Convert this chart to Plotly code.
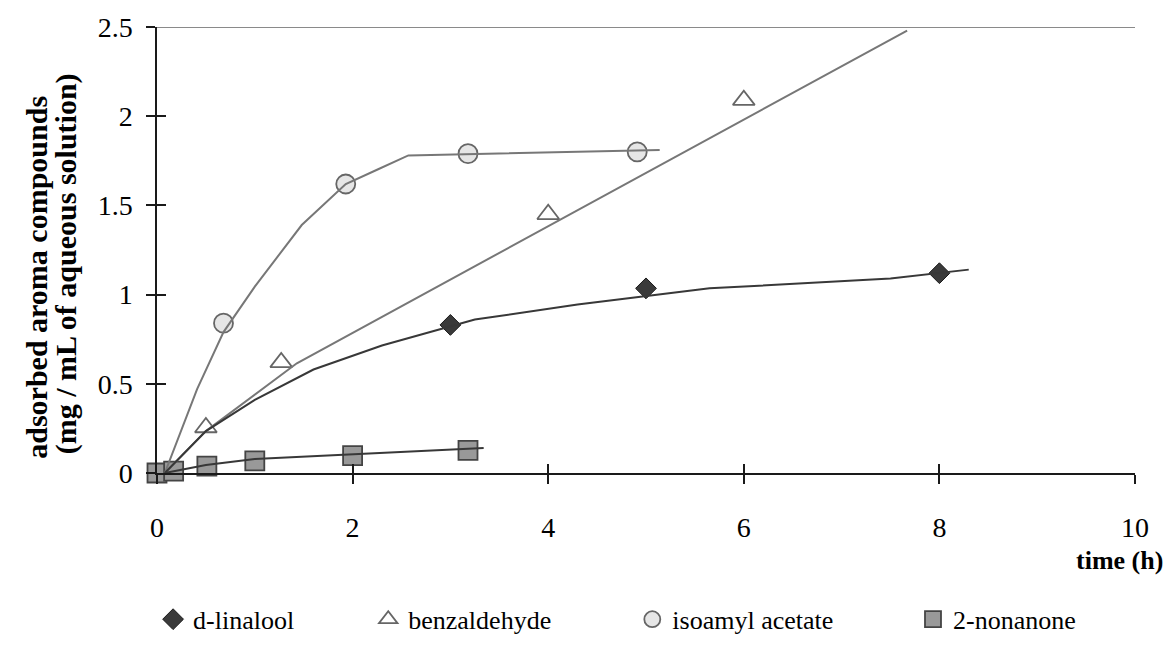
import plotly.graph_objects as go

# ---- data ----
t_linalool = [3.0, 5.0, 8.0]
y_linalool = [0.83, 1.035, 1.12]

t_benz = [0.5, 1.27, 4.0, 6.0]
y_benz = [0.255, 0.62, 1.45, 2.09]

t_iso = [0.68, 1.93, 3.18, 4.91]
y_iso = [0.84, 1.62, 1.79, 1.80]

t_non = [0.0, 0.17, 0.51, 1.0, 2.0, 3.18]
y_non = [0.0, 0.01, 0.038, 0.068, 0.097, 0.127]

# fitted trend curves (vertices)
fit_linalool_t = [0.08, 0.5, 1.0, 1.6, 2.3, 3.25, 4.3, 5.65, 7.5, 8.3]
fit_linalool_y = [0.0, 0.235, 0.41, 0.58, 0.715, 0.86, 0.945, 1.035, 1.09, 1.14]

fit_benz_t = [0.08, 0.5, 1.43, 7.67]
fit_benz_y = [0.0, 0.235, 0.615, 2.48]

fit_iso_t = [0.08, 0.41, 0.68, 1.0, 1.48, 1.93, 2.25, 2.57, 5.14]
fit_iso_y = [0.0, 0.47, 0.79, 1.045, 1.39, 1.62, 1.70, 1.78, 1.81]

fit_non_t = [0.08, 0.5, 1.0, 2.0, 3.34]
fit_non_y = [0.0, 0.045, 0.078, 0.105, 0.14]

x_ticks = [0, 2, 4, 6, 8, 10]
y_ticks = [0, 0.5, 1, 1.5, 2, 2.5]
y_tick_text = ["0", "0.5", "1", "1.5", "2", "2.5"]

names = ["d-linalool", "benzaldehyde", "isoamyl acetate", "2-nonanone"]
y_title_lines = ["adsorbed aroma compounds", "(mg / mL of aqueous solution)"]

FONT = "Liberation Serif"

fig = go.Figure()

# markers first (lines drawn on top)
fig.add_trace(go.Scatter(
    x=t_linalool, y=y_linalool, mode="markers", name=names[0], legend="legend",
    marker=dict(symbol="diamond", size=16, color="#3a3a3a", line=dict(color="#1a1a1a", width=1)),
    cliponaxis=False))
fig.add_trace(go.Scatter(
    x=t_benz, y=y_benz, mode="markers", name=names[1], legend="legend2",
    marker=dict(symbol="triangle-up", size=19, color="white", line=dict(color="#666666", width=1.8)),
    cliponaxis=False))
fig.add_trace(go.Scatter(
    x=t_iso, y=y_iso, mode="markers", name=names[2], legend="legend3",
    marker=dict(symbol="circle", size=19, color="#e6e6e6", line=dict(color="#666666", width=1.8)),
    cliponaxis=False))
fig.add_trace(go.Scatter(
    x=t_non, y=y_non, mode="markers", name=names[3], legend="legend4",
    marker=dict(symbol="square", size=19, color="#999999", line=dict(color="#444444", width=1.8)),
    cliponaxis=False))

# trend lines
fig.add_trace(go.Scatter(x=fit_iso_t, y=fit_iso_y, mode="lines", showlegend=False,
                         line=dict(color="#777777", width=2), cliponaxis=False))
fig.add_trace(go.Scatter(x=fit_benz_t, y=fit_benz_y, mode="lines", showlegend=False,
                         line=dict(color="#777777", width=2), cliponaxis=False))
fig.add_trace(go.Scatter(x=fit_linalool_t, y=fit_linalool_y, mode="lines", showlegend=False,
                         line=dict(color="#383838", width=2), cliponaxis=False))
fig.add_trace(go.Scatter(x=fit_non_t, y=fit_non_y, mode="lines", showlegend=False,
                         line=dict(color="#383838", width=2), cliponaxis=False))

# dummy trace for the overlay axes (inside half of the crossing ticks)
fig.add_trace(go.Scatter(x=[None], y=[None], xaxis="x2", yaxis="y2", showlegend=False, hoverinfo="skip"))

axis_common = dict(showgrid=False, zeroline=False, tickcolor="#1a1a1a", tickwidth=1.5, ticklen=9)

fig.update_layout(
    width=1167, height=655,
    margin=dict(l=157, r=32, t=22, b=167),
    paper_bgcolor="white", plot_bgcolor="white",
    font=dict(family=FONT, color="black"),
    xaxis=dict(range=[0, 10], tickvals=x_ticks, ticks="outside", showline=True,
               linecolor="#1a1a1a", linewidth=1.5, tickfont=dict(size=28, family=FONT, color="black"),
               ticklabelstandoff=20, **axis_common),
    yaxis=dict(range=[0, 2.5], tickvals=y_ticks, ticktext=y_tick_text, ticks="outside", showline=True,
               linecolor="#1a1a1a", linewidth=1.5, tickfont=dict(size=28, family=FONT, color="black"),
               ticklabelstandoff=8, **axis_common),
    xaxis2=dict(range=[0, 10], tickvals=x_ticks, ticks="inside", overlaying="x", anchor="y",
                side="bottom", showticklabels=False, showline=False, **axis_common),
    yaxis2=dict(range=[0, 2.5], tickvals=y_ticks, ticks="inside", overlaying="y", anchor="x",
                side="left", showticklabels=False, showline=False, **axis_common),
    shapes=[dict(type="line", xref="x domain", x0=0, x1=1, yref="y", y0=2.5, y1=2.5,
                 line=dict(color="#8a8a8a", width=2), layer="below")],
    annotations=[
        dict(text="<b>time (h)</b>", xref="paper", yref="paper", x=1.031, y=-0.197,
             xanchor="right", yanchor="middle", showarrow=False,
             font=dict(size=26, family=FONT, color="black")),
        dict(text="<b>" + y_title_lines[0] + "</b>",
             xref="paper", yref="paper", x=-0.1227, y=0.44, textangle=-90,
             xanchor="center", yanchor="middle", showarrow=False,
             font=dict(size=30, family=FONT, color="black")),
        dict(text="<b>" + y_title_lines[1] + "</b>",
             xref="paper", yref="paper", x=-0.093, y=0.468, textangle=-90,
             xanchor="center", yanchor="middle", showarrow=False,
             font=dict(size=30, family=FONT, color="black")),
    ],
)

leg_common = dict(orientation="h", yanchor="middle", xanchor="left", y=-0.328,
                  bgcolor="rgba(0,0,0,0)", font=dict(size=26, family=FONT, color="black"),
                  borderwidth=0)
fig.update_layout(
    legend=dict(x=-0.004, **leg_common),
    legend2=dict(x=0.216, **leg_common),
    legend3=dict(x=0.486, **leg_common),
    legend4=dict(x=0.773, **leg_common),
)

fig.write_html("out.html")
